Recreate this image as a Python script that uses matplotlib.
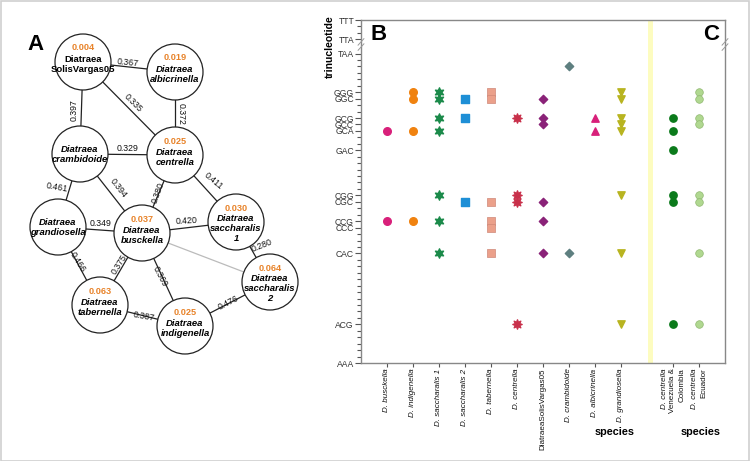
import matplotlib
matplotlib.use("Agg")
import matplotlib.pyplot as plt
from matplotlib.patches import Circle, Rectangle
import matplotlib.transforms as mtransforms
import numpy as np

plt.rcParams['font.family'] = ['Liberation Sans', 'DejaVu Sans']

# ---------------- Panel A data ----------------
node_names = ["SolisVargas05", "albicrinella", "crambidoide", "centrella", "grandiosella",
              "busckella", "saccharalis\n1", "saccharalis\n2", "tabernella", "indigenella"]
node_values = ["0.004", "0.019", "", "0.025", "", "0.037", "0.030", "0.064", "0.063", "0.025"]
edge_pairs = [(0, 1), (0, 2), (0, 3), (1, 3), (2, 3), (2, 4), (2, 5), (3, 5), (3, 6),
              (4, 5), (5, 6), (6, 7), (5, 7), (4, 8), (5, 8), (5, 9), (8, 9), (9, 7)]
edge_labels = ["0.367", "0.397", "0.335", "0.372", "0.329", "0.461", "0.394", "0.380", "0.411",
               "0.349", "0.420", "0.280", "", "0.466", "0.375", "0.369", "0.387", "0.476"]

# ---------------- Panel B/C data ----------------
species_B = ["D. busckella", "D. indigenella", "D. saccharalis 1", "D. saccharalis 2",
             "D. tabernella", "D. centrella", "DiatraeaSolisVargas05", "D. crambidoide",
             "D. albicrinella", "D. grandiosella"]
species_C = ["D. centrella|Venezuela &|Colombia", "D. centrella|Ecuador"]
ytick_codons = ["TTT", "TTA", "TAA", "GGG", "GGC", "GCG", "GCC", "GCA", "GAC",
                "CGG", "CGC", "CCG", "CCC", "CAC", "ACG", "AAA"]

busckella = ["GCA", "CCG"]
indigenella = ["GGG", "GGC", "GCA", "CCG"]
saccharalis1 = ["GGG", "GGC", "GCG", "GCA", "CGG", "CCG", "CAC"]
saccharalis2 = ["GGC", "GCG", "CGC"]
tabernella = ["GGG", "GGC", "CGC", "CCG", "CCC", "CAC"]
centrella = ["GCG", "CGG", "CGC", "ACG"]
solisvargas = ["GGC", "GCG", "GCC", "CGC", "CCG", "CAC"]
crambidoide = ["GTG", "CAC"]
albicrinella = ["GCG", "GCA"]
grandiosella = ["GGG", "GGC", "GCG", "GCC", "GCA", "CGG", "CAC", "ACG"]
centrella_vc = ["GCG", "GCA", "GAC", "CGG", "CGC", "ACG"]
centrella_ec = ["GGG", "GGC", "GCG", "GCC", "CGG", "CGC", "CAC", "ACG"]

BREAK_SHIFT = 9.8


def codon_y(c):
    idx = 16 * "ACGT".index(c[0]) + 4 * "ACGT".index(c[1]) + "ACGT".index(c[2])
    return idx if idx <= 48 else idx - BREAK_SHIFT


W, H = 750, 461
fig = plt.figure(figsize=(W / 100, H / 100), dpi=100)

# ---------- Panel A ----------
axA = fig.add_axes([0, 0, 1, 1])
axA.set_xlim(0, W)
axA.set_ylim(H, 0)
axA.axis("off")
fig.patches.append(Rectangle((0.001, 0.001), 0.998, 0.997, transform=fig.transFigure,
                             fill=False, edgecolor="#cfcfcf", lw=1.2))

node_xy = [(83, 62), (175, 72), (80, 154), (175, 155), (58, 227),
           (142, 233), (236, 222), (270, 282), (100, 305), (185, 326)]
R = 28
label_pos = [(128, 63, -6), (74, 110, 90), (133, 103, -45), (181, 114, -90), (128, 148, 0),
             (57, 187, -10), (118, 188, -52), (158, 193, 70), (213, 181, -40),
             (101, 223, 0), (186, 221, 3), (262, 246, 22), (0, 0, 0), (78, 262, -58),
             (119, 264, 58), (160, 277, -62), (144, 316, -10), (228, 303, 27)]

for (i, j), lab, (lx, ly, rot) in zip(edge_pairs, edge_labels, label_pos):
    x1, y1 = node_xy[i]
    x2, y2 = node_xy[j]
    col = "#bbbbbb" if lab == "" else "#222222"
    axA.plot([x1, x2], [y1, y2], color=col, lw=0.9, zorder=1)
    if lab:
        axA.text(lx, ly, lab, fontsize=6.3, ha="center", va="center", rotation=rot,
                 color="#111111", zorder=3)

for (x, y), name, val in zip(node_xy, node_names, node_values):
    axA.add_patch(Circle((x, y), R, facecolor="white", edgecolor="#222222", lw=0.9, zorder=2))
    lines = name.split("\n")
    style = "normal" if name == "SolisVargas05" else "italic"
    if val:
        axA.text(x, y - 14, val, fontsize=6.6, fontweight="bold", color="#e8832a",
                 ha="center", va="center", zorder=3)
        yy = y - 3
    else:
        yy = y - 5
    if len(lines) == 2:
        yy -= 1
    axA.text(x, yy, "Diatraea", fontsize=6.8, fontweight="bold", fontstyle=style,
             ha="center", va="center", zorder=3)
    for k, ln in enumerate(lines):
        axA.text(x, yy + 10 * (k + 1), ln, fontsize=6.8, fontweight="bold", fontstyle=style,
                 ha="center", va="center", zorder=3)

axA.text(35, 45, "A", fontsize=16, fontweight="bold", ha="center", va="center")

# ---------- Panel B/C ----------
left, right, top, bottom = 361, 725, 20, 363
axB = fig.add_axes([left / W, 1 - bottom / H, (right - left) / W, (bottom - top) / H])
axB.set_xlim(-1, 13)
axB.set_ylim(0, codon_y("TTT"))
for s in axB.spines.values():
    s.set_color("#888888")
    s.set_linewidth(1.0)

series = [
    (0, busckella, dict(marker="o", color="#d8207a", s=30)),
    (1, indigenella, dict(marker="o", color="#f0820f", s=30)),
    (2, saccharalis1, dict(marker=(6, 1, 0), color="#1b8a4a", s=45)),
    (3, saccharalis2, dict(marker="s", color="#1e8fd6", s=26)),
    (4, tabernella, dict(marker="s", color="#eba08a", s=30, edgecolors="#d08878", linewidths=0.5)),
    (5, centrella, dict(marker=(8, 1, 0), color="#c8304a", s=45)),
    (6, solisvargas, dict(marker="D", color="#8a2278", s=18)),
    (7, crambidoide, dict(marker="D", color="#5e7f80", s=18)),
    (8, albicrinella, dict(marker="^", color="#d8207a", s=28)),
    (9, grandiosella, dict(marker="v", color="#b8b420", s=28)),
    (11, centrella_vc, dict(marker="o", color="#0b7a1b", s=28)),
    (12, centrella_ec, dict(marker="o", color="#b0d890", s=30, edgecolors="#90b870", linewidths=0.5)),
]
for xpos, codons, kw in series:
    axB.scatter([xpos] * len(codons), [codon_y(c) for c in codons], zorder=3, **kw)

axB.axvspan(10.05, 10.25, color="#fdfcc0", lw=0, zorder=1)

axB.set_yticks([codon_y(c) for c in ytick_codons])
axB.set_yticklabels(ytick_codons, fontsize=6.2, color="#333333")
minor = list(range(0, 49)) + list(np.arange(codon_y("TTA"), codon_y("TTT") + 0.01, 1.0))
axB.set_yticks(minor, minor=True)
axB.tick_params(axis="y", which="major", length=4, width=0.8, color="#555555", pad=1)
axB.tick_params(axis="y", which="minor", length=3, width=0.8, color="#555555")

xpos_all = list(range(10)) + [11, 12]
axB.set_xticks(xpos_all)
axB.set_xticklabels([])
axB.tick_params(axis="x", length=3, width=0.8, color="#555555")

trans = mtransforms.blended_transform_factory(axB.transData, axB.transAxes)
lab_y = -0.016
for k, name in enumerate(species_B):
    st = "normal" if name.startswith("Diatraea") else "italic"
    axB.text(k, lab_y, name, rotation=90, ha="center", va="top", fontsize=5.8,
             fontstyle=st, transform=trans, color="#111111")
offs = mtransforms.ScaledTranslation
for k, name in zip([11, 12], species_C):
    parts = name.split("|")
    n = len(parts)
    for m, p in enumerate(parts):
        dx = (m - (n - 1) / 2) * 9 / 100
        t = trans + offs(dx, 0, fig.dpi_scale_trans)
        axB.text(k, lab_y, p, rotation=90, ha="center", va="top", fontsize=5.8,
                 fontstyle="italic" if m == 0 else "normal", transform=t, color="#111111")

fig.text(615 / W, 1 - 432 / H, "species", fontsize=7.8, fontweight="bold", ha="center", va="center")
fig.text(701 / W, 1 - 432 / H, "species", fontsize=7.8, fontweight="bold", ha="center", va="center")
fig.text(330 / W, 1 - 47 / H, "trinucleotide", fontsize=7.5, fontweight="bold", rotation=90,
         ha="center", va="center")
fig.text(379 / W, 1 - 35 / H, "B", fontsize=16, fontweight="bold", ha="center", va="center")
fig.text(711 / W, 1 - 35 / H, "C", fontsize=16, fontweight="bold", ha="center", va="center")

# axis break marks
yb = (codon_y("TAA") + codon_y("TTA")) / 2 + 0.3
for xa in (0.0, 1.0):
    for dy in (-0.4, 0.4):
        axB.plot([xa - 0.008, xa + 0.008], [yb + dy - 0.5, yb + dy + 0.5], color="#999999",
                 lw=0.7, transform=mtransforms.blended_transform_factory(axB.transAxes, axB.transData),
                 clip_on=False, zorder=5)

fig.savefig("out.png", dpi=100)
